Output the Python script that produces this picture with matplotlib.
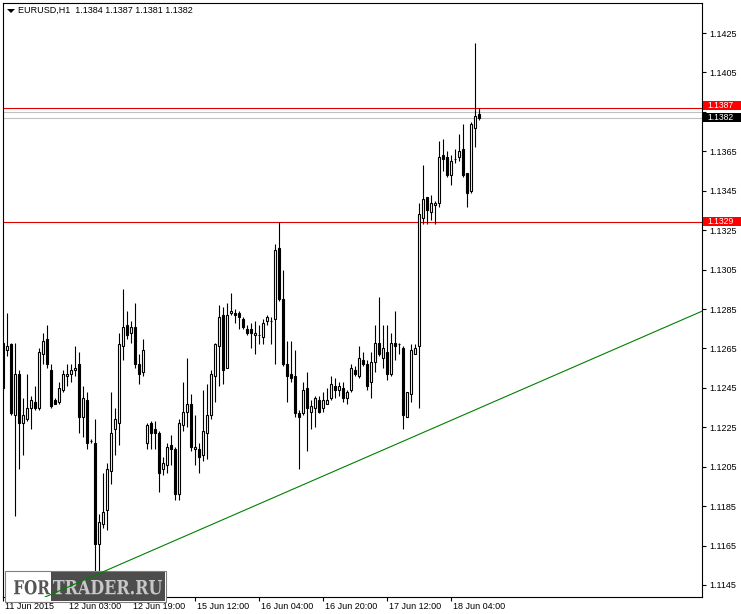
import numpy as np
import matplotlib
matplotlib.use('Agg')
import matplotlib.pyplot as plt
from matplotlib import patches, transforms
from matplotlib.textpath import TextPath
from matplotlib.font_manager import FontProperties

plt.rcParams['font.family'] = ['Liberation Sans', 'DejaVu Sans']

# EURUSD H1, bar by bar
opens = [1.1268, 1.1264, 1.1267, 1.1231, 1.1252, 1.1227, 1.1229, 1.1235, 1.1238, 1.1235,
         1.1262, 1.1270, 1.1254, 1.1239, 1.1238, 1.1244, 1.1251, 1.1252, 1.1254, 1.1257,
         1.1230, 1.1239, 1.1218, 1.1217, 1.1166, 1.1176, 1.1183, 1.1203, 1.1224, 1.1227,
         1.1266, 1.1277, 1.1273, 1.1276, 1.1257, 1.1253, 1.1217, 1.1227, 1.1224, 1.1222,
         1.1204, 1.1206, 1.1216, 1.1214, 1.1191, 1.1226, 1.1233, 1.1237, 1.1214, 1.1214,
         1.1211, 1.1222, 1.1231, 1.1251, 1.1266, 1.1282, 1.1255, 1.1283, 1.1283, 1.1283,
         1.1280, 1.1275, 1.1275, 1.1272, 1.1272, 1.1271, 1.1279, 1.1279, 1.1280, 1.1316,
         1.1290, 1.1257, 1.1252, 1.1251, 1.1232, 1.1232, 1.1245, 1.1233, 1.1235, 1.1239,
         1.1235, 1.1237, 1.1240, 1.1246, 1.1244, 1.1245, 1.1240, 1.1244, 1.1254, 1.1251,
         1.1259, 1.1257, 1.1248, 1.1258, 1.1268, 1.1260, 1.1263, 1.1252, 1.1268, 1.1267,
         1.1265, 1.1230, 1.1242, 1.1262, 1.1266, 1.1331, 1.1342, 1.1334, 1.1338, 1.1339,
         1.1363, 1.1362, 1.1353, 1.1361, 1.1362, 1.1366, 1.1354, 1.1345, 1.1377, 1.1384]
highs = [1.1269, 1.1283, 1.1268, 1.1268, 1.1254, 1.1240, 1.1252, 1.1241, 1.1246, 1.1265,
         1.1273, 1.1277, 1.1257, 1.1240, 1.1248, 1.1254, 1.1257, 1.1257, 1.1266, 1.1263,
         1.1246, 1.1243, 1.1219, 1.1229, 1.1181, 1.1202, 1.1207, 1.1243, 1.1235, 1.1273,
         1.1295, 1.1284, 1.1279, 1.1288, 1.1262, 1.1270, 1.1227, 1.1228, 1.1228, 1.1223,
         1.1210, 1.1217, 1.1221, 1.1215, 1.1229, 1.1248, 1.1260, 1.1242, 1.1231, 1.1217,
         1.1244, 1.1247, 1.1254, 1.1268, 1.1287, 1.1286, 1.1288, 1.1293, 1.1285, 1.1284,
         1.1281, 1.1277, 1.1278, 1.1279, 1.1277, 1.1280, 1.1282, 1.1281, 1.1318, 1.1329,
         1.1305, 1.1269, 1.1269, 1.1264, 1.1234, 1.1248, 1.1253, 1.1239, 1.1241, 1.1241,
         1.1243, 1.1245, 1.1251, 1.1250, 1.1248, 1.1248, 1.1244, 1.1257, 1.1256, 1.1266,
         1.1263, 1.1259, 1.1263, 1.1277, 1.1291, 1.1277, 1.1277, 1.1273, 1.1284, 1.1268,
         1.1266, 1.1243, 1.1267, 1.1267, 1.1339, 1.1358, 1.1342, 1.1343, 1.1340, 1.1370,
         1.1371, 1.1365, 1.1363, 1.1366, 1.1374, 1.1379, 1.1354, 1.1380, 1.1420, 1.1387]
lows = [1.1244, 1.1261, 1.1231, 1.1180, 1.1204, 1.1211, 1.1228, 1.1224, 1.1234, 1.1234,
        1.1257, 1.1255, 1.1235, 1.1237, 1.1237, 1.1243, 1.1246, 1.1248, 1.1251, 1.1222,
        1.1220, 1.1214, 1.1217, 1.1150, 1.1152, 1.1174, 1.1173, 1.1196, 1.1211, 1.1216,
        1.1259, 1.1270, 1.1268, 1.1255, 1.1247, 1.1251, 1.1214, 1.1214, 1.1214, 1.1192,
        1.1201, 1.1202, 1.1206, 1.1188, 1.1188, 1.1223, 1.1225, 1.1213, 1.1206, 1.1202,
        1.1208, 1.1209, 1.1229, 1.1238, 1.1246, 1.1247, 1.1255, 1.1282, 1.1278, 1.1275,
        1.1275, 1.1272, 1.1265, 1.1262, 1.1267, 1.1267, 1.1277, 1.1267, 1.1257, 1.1289,
        1.1256, 1.1238, 1.1248, 1.1230, 1.1204, 1.1231, 1.1213, 1.1224, 1.1225, 1.1232,
        1.1233, 1.1237, 1.1239, 1.1240, 1.1241, 1.1238, 1.1237, 1.1243, 1.1251, 1.1250,
        1.1256, 1.1244, 1.1240, 1.1253, 1.1261, 1.1255, 1.1249, 1.1251, 1.1259, 1.1262,
        1.1224, 1.1230, 1.1238, 1.1262, 1.1235, 1.1328, 1.1328, 1.1330, 1.1328, 1.1337,
        1.1355, 1.1352, 1.1348, 1.1359, 1.1360, 1.1352, 1.1337, 1.1344, 1.1367, 1.1381]
closes = [1.1245, 1.1266, 1.1232, 1.1252, 1.1227, 1.1231, 1.1235, 1.1239, 1.1235, 1.1263,
          1.1269, 1.1257, 1.1236, 1.1237, 1.1245, 1.1252, 1.1252, 1.1254, 1.1255, 1.1230,
          1.1240, 1.1217, 1.1218, 1.1166, 1.1177, 1.1182, 1.1204, 1.1222, 1.1229, 1.1267,
          1.1276, 1.1272, 1.1276, 1.1257, 1.1252, 1.1264, 1.1226, 1.1222, 1.1222, 1.1202,
          1.1207, 1.1215, 1.1214, 1.1191, 1.1227, 1.1233, 1.1237, 1.1215, 1.1215, 1.1210,
          1.1223, 1.1231, 1.1252, 1.1267, 1.1281, 1.1254, 1.1282, 1.1284, 1.1282, 1.1281,
          1.1276, 1.1273, 1.1273, 1.1273, 1.1272, 1.1278, 1.1281, 1.1279, 1.1315, 1.1290,
          1.1257, 1.1251, 1.1250, 1.1232, 1.1230, 1.1244, 1.1235, 1.1236, 1.1240, 1.1233,
          1.1239, 1.1239, 1.1247, 1.1244, 1.1246, 1.1240, 1.1243, 1.1255, 1.1252, 1.1260,
          1.1257, 1.1246, 1.1258, 1.1268, 1.1262, 1.1265, 1.1252, 1.1268, 1.1266, 1.1267,
          1.1231, 1.1243, 1.1264, 1.1265, 1.1333, 1.1341, 1.1335, 1.1339, 1.1339, 1.1362,
          1.1361, 1.1353, 1.1360, 1.1361, 1.1365, 1.1353, 1.1344, 1.1379, 1.1383, 1.1382]

time_labels = ['11 Jun 2015', '12 Jun 03:00', '12 Jun 19:00', '15 Jun 12:00',
               '16 Jun 04:00', '16 Jun 20:00', '17 Jun 12:00', '18 Jun 04:00']
label_step = 16

price_ticks = np.round(np.arange(1.1145, 1.1426, 0.002), 4)
hidden_tick = 1.1385  # covered by the price boxes in the terminal

# horizontal levels: (price, line colour, label box colour or None, label nudge in px)
levels = [(1.1387, '#e00000', '#ff0000', 2.0),
          (1.1385, '#c0c0c0', None, 0),
          (1.1382, '#c0c0c0', '#000000', 0.8),
          (1.1329, '#e00000', '#ff0000', 0.5)]

# trend line anchors (bar index, price)
trend_bars = [23, 100]
trend_prices = [1.1150, 1.1218]

W, H = 741, 614
fig = plt.figure(figsize=(W / 100, H / 100), dpi=100)
ax = fig.add_axes([3 / W, 17 / H, 698.5 / W, 594.3 / H])


def fx(px):
    return px / W


def fy(py):
    return 1 - py / H


def stretched_text(s, left, right, top, bottom, color, z):
    # text scaled to fill a pixel box (y from the top of the picture)
    tp = TextPath((0, 0), s, size=20, prop=FontProperties(family='DejaVu Serif', weight='bold'))
    ext = tp.get_extents()
    sx = (right - left) / W / ext.width
    sy = (bottom - top) / H / ext.height
    tr = (transforms.Affine2D().translate(-ext.x0, -ext.y0).scale(sx, sy)
          .translate(fx(left), fy(bottom)) + fig.transFigure)
    ax.add_artist(patches.PathPatch(tp, transform=tr, facecolor=color, edgecolor='none',
                                    clip_on=False, zorder=z))


n = len(opens)
idx = np.arange(n)
o = np.array(opens)
c = np.array(closes)
ax.vlines(idx, lows, highs, color='black', lw=0.8, zorder=2)
up = c >= o
ax.bar(idx[up], (c - o)[up], bottom=o[up], width=0.5, facecolor='white',
       edgecolor='black', lw=0.8, zorder=2.1)
ax.bar(idx[~up], (o - c)[~up], bottom=c[~up], width=0.5, facecolor='black',
       edgecolor='black', lw=0.8, zorder=2.1)

for price, col, box, nudge in levels:
    ax.axhline(price, color=col, lw=0.8, zorder=1.5)

ax.axline((trend_bars[0], trend_prices[0]), (trend_bars[1], trend_prices[1]),
          color='#008000', lw=0.8, zorder=4)

ax.set_xlim(-0.1, 174.5)
ax.set_ylim(1.11389, 1.14404)

ax.yaxis.tick_right()
ax.set_yticks(price_ticks)
ax.set_yticklabels(['' if p == hidden_tick else f'{p:.4f}' for p in price_ticks])
ax.set_xticks(range(0, n, label_step)[:len(time_labels)])
ax.set_xticklabels(time_labels, ha='left')
ax.tick_params(axis='both', direction='out', length=3, width=0.8, labelsize=6.5,
               colors='black')
ax.tick_params(axis='y', pad=2.5)
ax.tick_params(axis='x', pad=0.8)
for lab in ax.get_xticklabels():
    lab.set_transform(lab.get_transform() + transforms.ScaledTranslation(1.5 / 100, 0, fig.dpi_scale_trans))
for sp in ax.spines.values():
    sp.set_linewidth(0.8)
    sp.set_color('black')

# price label boxes on the right scale
blend = transforms.blended_transform_factory(fig.transFigure, ax.transData)
px_price = (ax.get_ylim()[1] - ax.get_ylim()[0]) / 594.3
box_h = 9 * px_price
for price, col, box, nudge in levels:
    if box is None:
        continue
    yc = price + nudge * px_price
    ax.add_artist(patches.Rectangle((fx(702.5), yc - box_h / 2), fx(741 - 702.5), box_h,
                                    transform=blend, facecolor=box, edgecolor='none',
                                    clip_on=False, zorder=5))
    ax.text(fx(707), yc, f'{price:.4f}', transform=blend, color='white',
            fontsize=6.2, va='center', ha='left', clip_on=False, zorder=6)

# header
ax.add_artist(patches.Polygon([(fx(7), fy(9)), (fx(15), fy(9)), (fx(11), fy(13))],
                              closed=True, transform=fig.transFigure, facecolor='black',
                              edgecolor='none', clip_on=False, zorder=6))
fig.text(fx(18), fy(10.5), 'EURUSD,H1  %.4f %.4f %.4f %.4f' % (opens[-1], highs[-1], lows[-1], closes[-1]),
         fontsize=6.5, va='center', ha='left')

# watermark
ax.add_artist(patches.Rectangle((fx(5), fy(602)), fx(161), 31 / H, transform=fig.transFigure,
                                facecolor='white', edgecolor='#808080', lw=0.8,
                                clip_on=False, zorder=3))
ax.add_artist(patches.Rectangle((fx(50.7), fy(601)), fx(114), 28.7 / H, transform=fig.transFigure,
                                facecolor='#4d4d4d', edgecolor='none',
                                clip_on=False, zorder=3.1))
stretched_text('FOR', 14, 50, 580, 594.5, '#555555', 3.2)
stretched_text('TRADER.RU', 53, 162, 580, 594.5, '#c8c8c8', 3.2)

fig.savefig('out.png', dpi=100)
